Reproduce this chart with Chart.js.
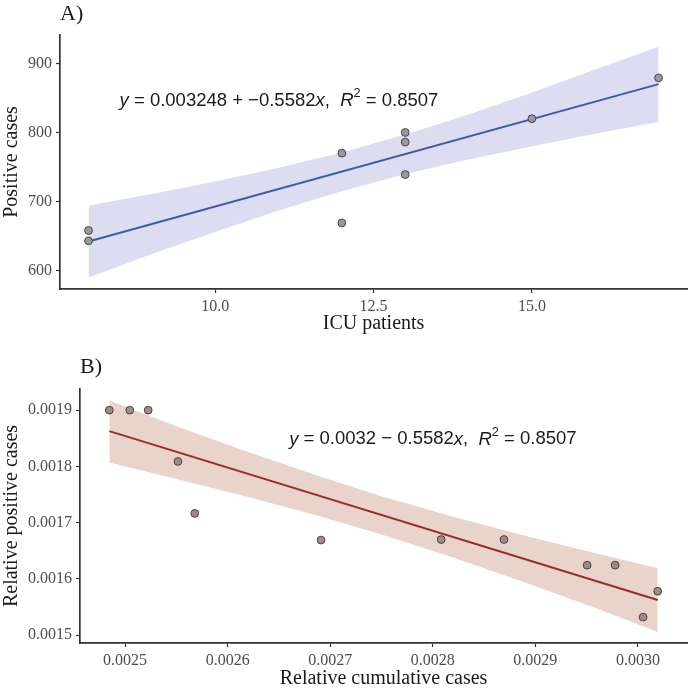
<!DOCTYPE html>
<html>
<head>
<meta charset="utf-8">
<script src="https://cdn.jsdelivr.net/npm/chart.js@4.4.1/dist/chart.umd.min.js"></script>
<style>
  html, body { margin: 0; padding: 0; background: #fff; }
  #wrap { position: relative; width: 692px; height: 688px; }
  #chartA { position: absolute; left: 0; top: 0; }
  #chartB { position: absolute; left: 0; top: 340px; }
</style>
</head>
<body>
<div id="wrap">
  <canvas id="chartA" width="692" height="340"></canvas>
  <canvas id="chartB" width="692" height="348"></canvas>
</div>
<script>
// Panel A: ICU patients vs positive cases
const icuPatients = [8, 8, 12, 12, 13, 13, 13, 15, 17];
const positiveCases = [658, 643, 770, 669, 800, 786, 739, 820, 879];
const fitAx = [8, 17];
const fitAy = [642, 870];
const bandAx = [8, 9, 10, 11, 12, 13, 14, 15, 16, 17];
const bandAUpper = [694, 711, 729, 749, 771, 797, 826, 858, 891, 924];
const bandALower = [590, 624, 656, 687, 715, 740, 761, 780, 798, 815];
const ticksAx = [10, 12.5, 15];
const ticksAy = [600, 700, 800, 900];
const eqAnchorA = [8.49, 846];

// Panel B: relative cumulative vs relative positive cases
const relCumulative = [0.0024846, 0.0025045, 0.0025225, 0.0025515, 0.0025679, 0.002691, 0.0028082, 0.0028694, 0.0029505, 0.0029778, 0.0030051, 0.0030193];
const relPositive = [0.0019, 0.0019, 0.0019, 0.0018088, 0.0017164, 0.001669, 0.00167, 0.00167, 0.0016244, 0.0016244, 0.001532, 0.001578];
const fitBx = [0.0024846, 0.0030193];
const fitBy = [0.0018627, 0.0015625];
const bandBx = [0.0024846, 0.00255, 0.00262, 0.00269, 0.00275, 0.00282, 0.00289, 0.00296, 0.0030193];
const bandBUpper = [0.001917, 0.0018715, 0.0018255, 0.0017819, 0.0017471, 0.0017103, 0.0016767, 0.0016452, 0.0016188];
const bandBLower = [0.0018068, 0.0017777, 0.0017457, 0.0017113, 0.0016791, 0.0016381, 0.0015937, 0.0015472, 0.0015056];
const ticksBx = [0.0025, 0.0026, 0.0027, 0.0028, 0.0029, 0.0030];
const ticksBy = [0.0015, 0.0016, 0.0017, 0.0018, 0.0019];
const eqAnchorB = [0.00266, 0.001848];

const serif = "'Liberation Serif', 'Times New Roman', serif";
const sans = "'Liberation Sans', Arial, sans-serif";

const toXY = (xs, ys) => xs.map((x, i) => ({ x: x, y: ys[i] }));

// equation label drawn in data coordinates, with italic y / x / R and superscript 2
function equationPlugin(anchor, parts) {
    return {
        id: 'equation',
        afterDatasetsDraw(chart) {
            const ctx = chart.ctx;
            let px = chart.scales.x.getPixelForValue(anchor[0]);
            const py = chart.scales.y.getPixelForValue(anchor[1]);
            ctx.save();
            ctx.fillStyle = '#1a1a1a';
            ctx.textBaseline = 'middle';
            ctx.textAlign = 'left';
            parts.forEach(p => {
                const size = p.sup ? 12.8 : 18.5;
                ctx.font = (p.it ? 'italic ' : '') + size + 'px ' + sans;
                ctx.fillText(p.t, px, p.sup ? py - 7 : py);
                px += ctx.measureText(p.t).width;
            });
            ctx.restore();
        }
    };
}

function axisOpts(min, max, tickVals, fmt, title, size, isX, titleBottom) {
    return {
        type: 'linear',
        min: min,
        max: max,
        afterBuildTicks: s => { s.ticks = tickVals.map(v => ({ value: v })); },
        afterFit: s => { if (isX) s.height = size; else s.width = size; },
        ticks: {
            callback: fmt,
            color: '#4d4d4d',
            font: { family: serif, size: 16 },
            padding: 4
        },
        grid: { display: true, drawOnChartArea: false, tickLength: 4, tickColor: '#333', tickWidth: 1.2 },
        border: { display: true, color: '#333', width: 1.7 },
        title: {
            display: true,
            text: title,
            color: '#1a1a1a',
            font: { family: serif, size: 20, lineHeight: 1 },
            padding: isX ? { top: 0, bottom: titleBottom } : { top: 2, bottom: 0 }
        }
    };
}

function buildChart(id, cfg) {
    return new Chart(document.getElementById(id).getContext('2d'), {
        type: 'scatter',
        data: {
            datasets: [
                { data: toXY(cfg.px, cfg.py), backgroundColor: cfg.ptFill, borderColor: '#3a3a3a', borderWidth: 0.9, pointRadius: 3.9, order: 0 },
                { data: toXY(cfg.fx, cfg.fy), showLine: true, borderColor: cfg.lineColor, borderWidth: 2, pointRadius: 0, fill: false, order: 1 },
                { data: toXY(cfg.bx, cfg.bu), showLine: true, borderWidth: 0, borderColor: 'transparent', pointRadius: 0, backgroundColor: cfg.bandColor, fill: '+1', order: 2 },
                { data: toXY(cfg.bx, cfg.bl), showLine: true, borderWidth: 0, borderColor: 'transparent', pointRadius: 0, fill: false, order: 3 }
            ]
        },
        options: {
            responsive: false,
            animation: false,
            devicePixelRatio: 1,
            layout: { padding: 0 },
            plugins: {
                legend: { display: false },
                tooltip: { enabled: false },
                title: {
                    display: true,
                    text: cfg.label,
                    align: 'start',
                    fullSize: false,
                    color: '#1a1a1a',
                    font: { family: serif, size: 22, weight: 'normal' },
                    padding: cfg.titlePad
                }
            },
            scales: {
                x: axisOpts(cfg.xMin, cfg.xMax, cfg.tx, cfg.fmtX, cfg.xTitle, cfg.xH, true, cfg.xTitleBottom),
                y: axisOpts(cfg.yMin, cfg.yMax, cfg.ty, cfg.fmtY, cfg.yTitle, cfg.yW, false, 0)
            }
        },
        plugins: [equationPlugin(cfg.eqAnchor, cfg.eq)]
    });
}

buildChart('chartA', {
    px: icuPatients, py: positiveCases,
    fx: fitAx, fy: fitAy,
    bx: bandAx, bu: bandAUpper, bl: bandALower,
    ptFill: '#9b98a0', lineColor: '#3d5aa8', bandColor: '#dcddf0',
    label: 'A)', titlePad: { top: 1, bottom: 7.6 },
    xMin: 7.55, xMax: 17.45, yMin: 573.3, yMax: 941.1,
    tx: ticksAx, ty: ticksAy,
    fmtX: v => v.toFixed(1), fmtY: v => String(v),
    xTitle: 'ICU patients', yTitle: 'Positive cases',
    xH: 51, yW: 60, xTitleBottom: 6,
    eqAnchor: eqAnchorA,
    eq: [
        { t: 'y', it: true }, { t: ' = 0.003248 + \u22120.5582' }, { t: 'x', it: true },
        { t: ',  ' }, { t: 'R', it: true }, { t: '2', sup: true }, { t: ' = 0.8507' }
    ]
});

buildChart('chartB', {
    px: relCumulative, py: relPositive,
    fx: fitBx, fy: fitBy,
    bx: bandBx, bu: bandBUpper, bl: bandBLower,
    ptFill: '#9f8b87', lineColor: '#9b2a2b', bandColor: '#e9d4cb',
    label: 'B)', titlePad: { top: 14, bottom: 8.6 },
    xMin: 0.002456, xMax: 0.003048, yMin: 0.001486, yMax: 0.0019376,
    tx: ticksBx, ty: ticksBy,
    fmtX: v => v.toFixed(4), fmtY: v => v.toFixed(4),
    xTitle: 'Relative cumulative cases', yTitle: 'Relative positive cases',
    xH: 45, yW: 80, xTitleBottom: -1,
    eqAnchor: eqAnchorB,
    eq: [
        { t: 'y', it: true }, { t: ' = 0.0032 \u2212 0.5582' }, { t: 'x', it: true },
        { t: ',  ' }, { t: 'R', it: true }, { t: '2', sup: true }, { t: ' = 0.8507' }
    ]
});
</script>
</body>
</html>
